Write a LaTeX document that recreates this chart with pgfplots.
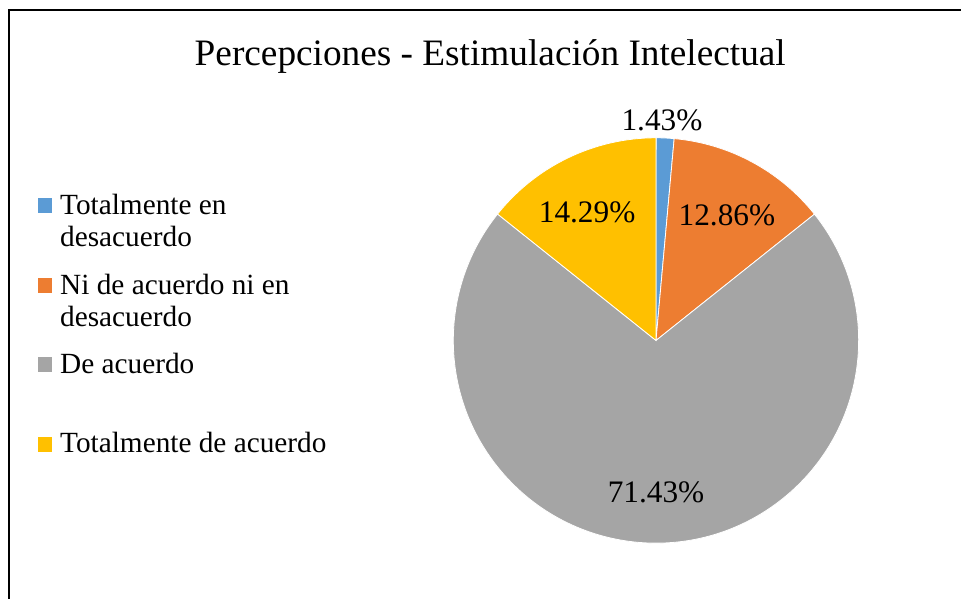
\documentclass[border=0pt]{standalone}
\usepackage{pgfplots}
\usepackage{pgfplotstable}
\pgfplotsset{compat=1.18}
\usepackage{fontspec}
\setmainfont{Liberation Serif}
\definecolor{cBlue}{HTML}{5B9BD5}
\definecolor{cOrange}{HTML}{ED7D31}
\definecolor{cGray}{HTML}{A5A5A5}
\definecolor{cYellow}{HTML}{FFC000}
\pgfplotstableread{
idx value
0 1.43
1 12.86
2 71.43
3 14.29
}\piedata
\begin{document}
\begin{tikzpicture}
\pgfplotstablegetelem{0}{value}\of\piedata \let\vA\pgfplotsretval
\pgfplotstablegetelem{1}{value}\of\piedata \let\vB\pgfplotsretval
\pgfplotstablegetelem{2}{value}\of\piedata \let\vC\pgfplotsretval
\pgfplotstablegetelem{3}{value}\of\piedata \let\vD\pgfplotsretval
\pgfmathsetmacro\aA{90-3.6*\vA}
\pgfmathsetmacro\aB{\aA-3.6*\vB}
\pgfmathsetmacro\aC{\aB-3.6*\vC}
\pgfmathsetmacro\aD{\aC-3.6*\vD}
\def\R{152.25pt}
\begin{axis}[
  scale only axis, width=721.5pt, height=449.25pt,
  xmin=0, xmax=962, ymin=0, ymax=599, y dir=reverse,
  hide axis, clip=false,
]
\path (axis cs:0,0) rectangle (axis cs:962,599);
% frame
\draw[line width=1.5pt, black] (axis cs:9,599.5) -- (axis cs:9,10.5) -- (axis cs:962.5,10.5);
% pie
\filldraw[fill=cBlue, draw=white, line width=0.6pt] (axis cs:657,341) -- ++(90:\R) arc[start angle=90, end angle=\aA, radius=\R] -- cycle;
\filldraw[fill=cOrange, draw=white, line width=0.6pt] (axis cs:657,341) -- ++(\aA:\R) arc[start angle=\aA, end angle=\aB, radius=\R] -- cycle;
\filldraw[fill=cGray, draw=white, line width=0.6pt] (axis cs:657,341) -- ++(\aB:\R) arc[start angle=\aB, end angle=\aC, radius=\R] -- cycle;
\filldraw[fill=cYellow, draw=white, line width=0.6pt] (axis cs:657,341) -- ++(\aC:\R) arc[start angle=\aC, end angle=\aD, radius=\R] -- cycle;
% title
\node[font=\fontsize{28}{33}\selectfont, anchor=base] at (axis cs:491,66) {Percepciones - Estimulación Intelectual};
% data labels
\begin{scope}[every node/.style={font=\fontsize{23.5}{27}\selectfont, anchor=base, inner sep=0pt}]
\node at (axis cs:663,131) {1.43\%};
\node at (axis cs:728,226) {12.86\%};
\node at (axis cs:588,223) {14.29\%};
\node at (axis cs:657,503) {71.43\%};
\end{scope}
% legend
\fill[cBlue] (axis cs:38,198) rectangle (axis cs:52,213);
\fill[cOrange] (axis cs:38,278) rectangle (axis cs:52,293);
\fill[cGray] (axis cs:38,358) rectangle (axis cs:52,373);
\fill[cYellow] (axis cs:38,438) rectangle (axis cs:52,453);
\begin{scope}[every node/.style={font=\fontsize{22}{25}\selectfont, anchor=base west, inner sep=0pt}]
\node at (axis cs:60,215) {Totalmente en};
\node at (axis cs:60,247) {desacuerdo};
\node at (axis cs:60,295) {Ni de acuerdo ni en};
\node at (axis cs:60,327) {desacuerdo};
\node at (axis cs:60,374) {De acuerdo};
\node at (axis cs:60,453) {Totalmente de acuerdo};
\end{scope}
\end{axis}
\end{tikzpicture}
\end{document}
